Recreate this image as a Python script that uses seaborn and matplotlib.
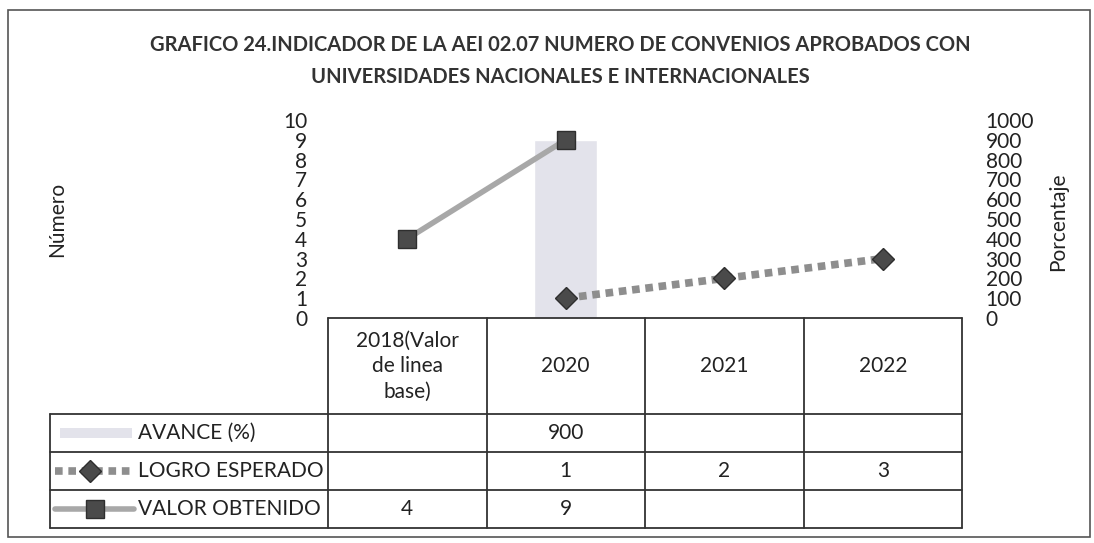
import numpy as np
import pandas as pd
import matplotlib
matplotlib.use("Agg")
import matplotlib.pyplot as plt
from matplotlib.lines import Line2D
from matplotlib.patches import Rectangle
import seaborn as sns

categories = ["2018(Valor\nde linea\nbase)", "2020", "2021", "2022"]
avance = [np.nan, 900, np.nan, np.nan]
logro_esperado = [np.nan, 1, 2, 3]
valor_obtenido = [4, 9, np.nan, np.nan]
series_names = ["AVANCE (%)", "LOGRO ESPERADO", "VALOR OBTENIDO"]
title = ("GRAFICO 24.INDICADOR DE LA AEI 02.07 NUMERO DE CONVENIOS APROBADOS CON\n"
         "UNIVERSIDADES NACIONALES E INTERNACIONALES")

W, H = 1094, 543


def fx(px):
    return px / W


def fy(py):
    return 1 - py / H


sns.set_style("white")
plt.rcParams["font.family"] = ["Lato", "DejaVu Sans"]

bar_color = "#e3e3eb"
valor_line = "#a8a8a8"
logro_line = "#8e8e8e"
marker_dark = "#4a4a4a"
txt = "#222222"
fs = 15

df = pd.DataFrame({"cat": categories, "pos": np.arange(len(categories)),
                   "avance": avance, "logro": logro_esperado, "valor": valor_obtenido})

fig = plt.figure(figsize=(W / 100, H / 100), dpi=100)
left, right, top, bottom = 328, 962, 120, 318
ax_bar = fig.add_axes([fx(left), fy(bottom), fx(right) - fx(left), fy(top) - fy(bottom)])

# bar (percentage) on the host axes
sns.barplot(data=df, x="cat", y="avance", color=bar_color, width=0.4,
            saturation=1, ax=ax_bar, zorder=1)
ax_bar.set_ylim(0, 1000)
ax_bar.set_yticks(np.arange(0, 1001, 100))
ax_bar.set_xlabel("")
ax_bar.set_ylabel("")

# lines on the twin axes
ax_line = ax_bar.twinx()
sns.lineplot(data=df, x="pos", y="valor", color=valor_line, lw=4, ax=ax_line,
             marker="s", markersize=13, markerfacecolor=marker_dark,
             markeredgecolor="#2e2e2e", markeredgewidth=1)
sns.lineplot(data=df, x="pos", y="logro", color=logro_line, lw=5.5, ax=ax_line,
             marker="D", markersize=11.5, markerfacecolor=marker_dark,
             markeredgecolor="#2e2e2e", markeredgewidth=1,
             dashes=False)
ax_line.lines[-1].set_dashes([1, 0.75])
ax_line.lines[-1].set_dash_capstyle("butt")
ax_line.set_ylim(0, 10)
ax_line.set_yticks(np.arange(0, 11, 1))
ax_line.set_xlabel("")
ax_line.set_ylabel("")

# swap sides: number on the left, percentage on the right
ax_line.yaxis.tick_left()
ax_bar.yaxis.tick_right()
ax_line.tick_params(axis="y", length=0, pad=15, labelsize=fs, labelcolor=txt)
ax_bar.tick_params(axis="y", length=0, pad=17, labelsize=fs, labelcolor=txt)
for lab in ax_bar.get_yticklabels():
    lab.set_horizontalalignment("left")
for lab in ax_line.get_yticklabels():
    lab.set_horizontalalignment("right")

for a in (ax_bar, ax_line):
    a.set_xlim(-0.5, len(categories) - 0.5)
    a.set_xticks([])
    for s in a.spines.values():
        s.set_visible(False)

fig.text(fx(57), fy(219), "Número", rotation=90, ha="center", va="center",
         fontsize=fs, color=txt)
fig.text(fx(1058), fy(222), "Porcentaje", rotation=90, ha="center", va="center",
         fontsize=fs, color=txt)

fig.text(fx(560), fy(61), title, ha="center", va="center", fontsize=14.5,
         fontweight="bold", linespacing=1.75, color="#333333")

# data table
ncat = len(categories)
col_w = (right - left) / ncat
edges = [left + i * col_w for i in range(ncat + 1)]
tab_left = 50
header_bot = 414
row_h = 38
rows = [header_bot + i * row_h for i in range(4)]
lc, lw = "#333333", 1.3


def hline(x0, x1, y):
    fig.add_artist(Line2D([fx(x0), fx(x1)], [fy(y), fy(y)], color=lc, lw=lw))


def vline(x, y0, y1):
    fig.add_artist(Line2D([fx(x), fx(x)], [fy(y0), fy(y1)], color=lc, lw=lw))


hline(left, right, bottom)
for y in rows:
    hline(tab_left, right, y)
for x in edges:
    vline(x, bottom, rows[-1])
vline(tab_left, header_bot, rows[-1])

for i, c in enumerate(categories):
    fig.text(fx(edges[i] + col_w / 2), fy((bottom + header_bot) / 2), c,
             ha="center", va="center", fontsize=fs, color=txt, linespacing=1.35)

table_vals = [avance, logro_esperado, valor_obtenido]
for r, vals in enumerate(table_vals):
    yc = rows[r] + row_h / 2
    for i, v in enumerate(vals):
        if not np.isnan(v):
            fig.text(fx(edges[i] + col_w / 2), fy(yc), f"{v:g}", ha="center",
                     va="center", fontsize=fs, color=txt)
    fig.text(fx(138), fy(yc), series_names[r], ha="left", va="center",
             fontsize=fs, color=txt)

# legend keys inside the table
y0 = rows[0] + row_h / 2
fig.add_artist(Rectangle((fx(60), fy(y0 + 5)), fx(132) - fx(60), fy(y0 - 5) - fy(y0 + 5),
                         color=bar_color, lw=0))
y1 = rows[1] + row_h / 2
k = Line2D([fx(55), fx(133)], [fy(y1), fy(y1)], color=logro_line, lw=5.5)
k.set_dashes([1, 0.75])
k.set_dash_capstyle("butt")
fig.add_artist(k)
fig.add_artist(Line2D([fx(90)], [fy(y1)], marker="D", markersize=11.5,
                      markerfacecolor=marker_dark, markeredgecolor="#2e2e2e", lw=0))
y2 = rows[2] + row_h / 2
fig.add_artist(Line2D([fx(55), fx(134)], [fy(y2), fy(y2)], color=valor_line, lw=4))
fig.add_artist(Line2D([fx(95)], [fy(y2)], marker="s", markersize=13,
                      markerfacecolor=marker_dark, markeredgecolor="#2e2e2e", lw=0))

# outer frame
fig.add_artist(Rectangle((fx(8), fy(537)), fx(1090) - fx(8), fy(10) - fy(537),
                         fill=False, edgecolor="#555555", lw=1.2))

fig.savefig("out.png", dpi=100)
